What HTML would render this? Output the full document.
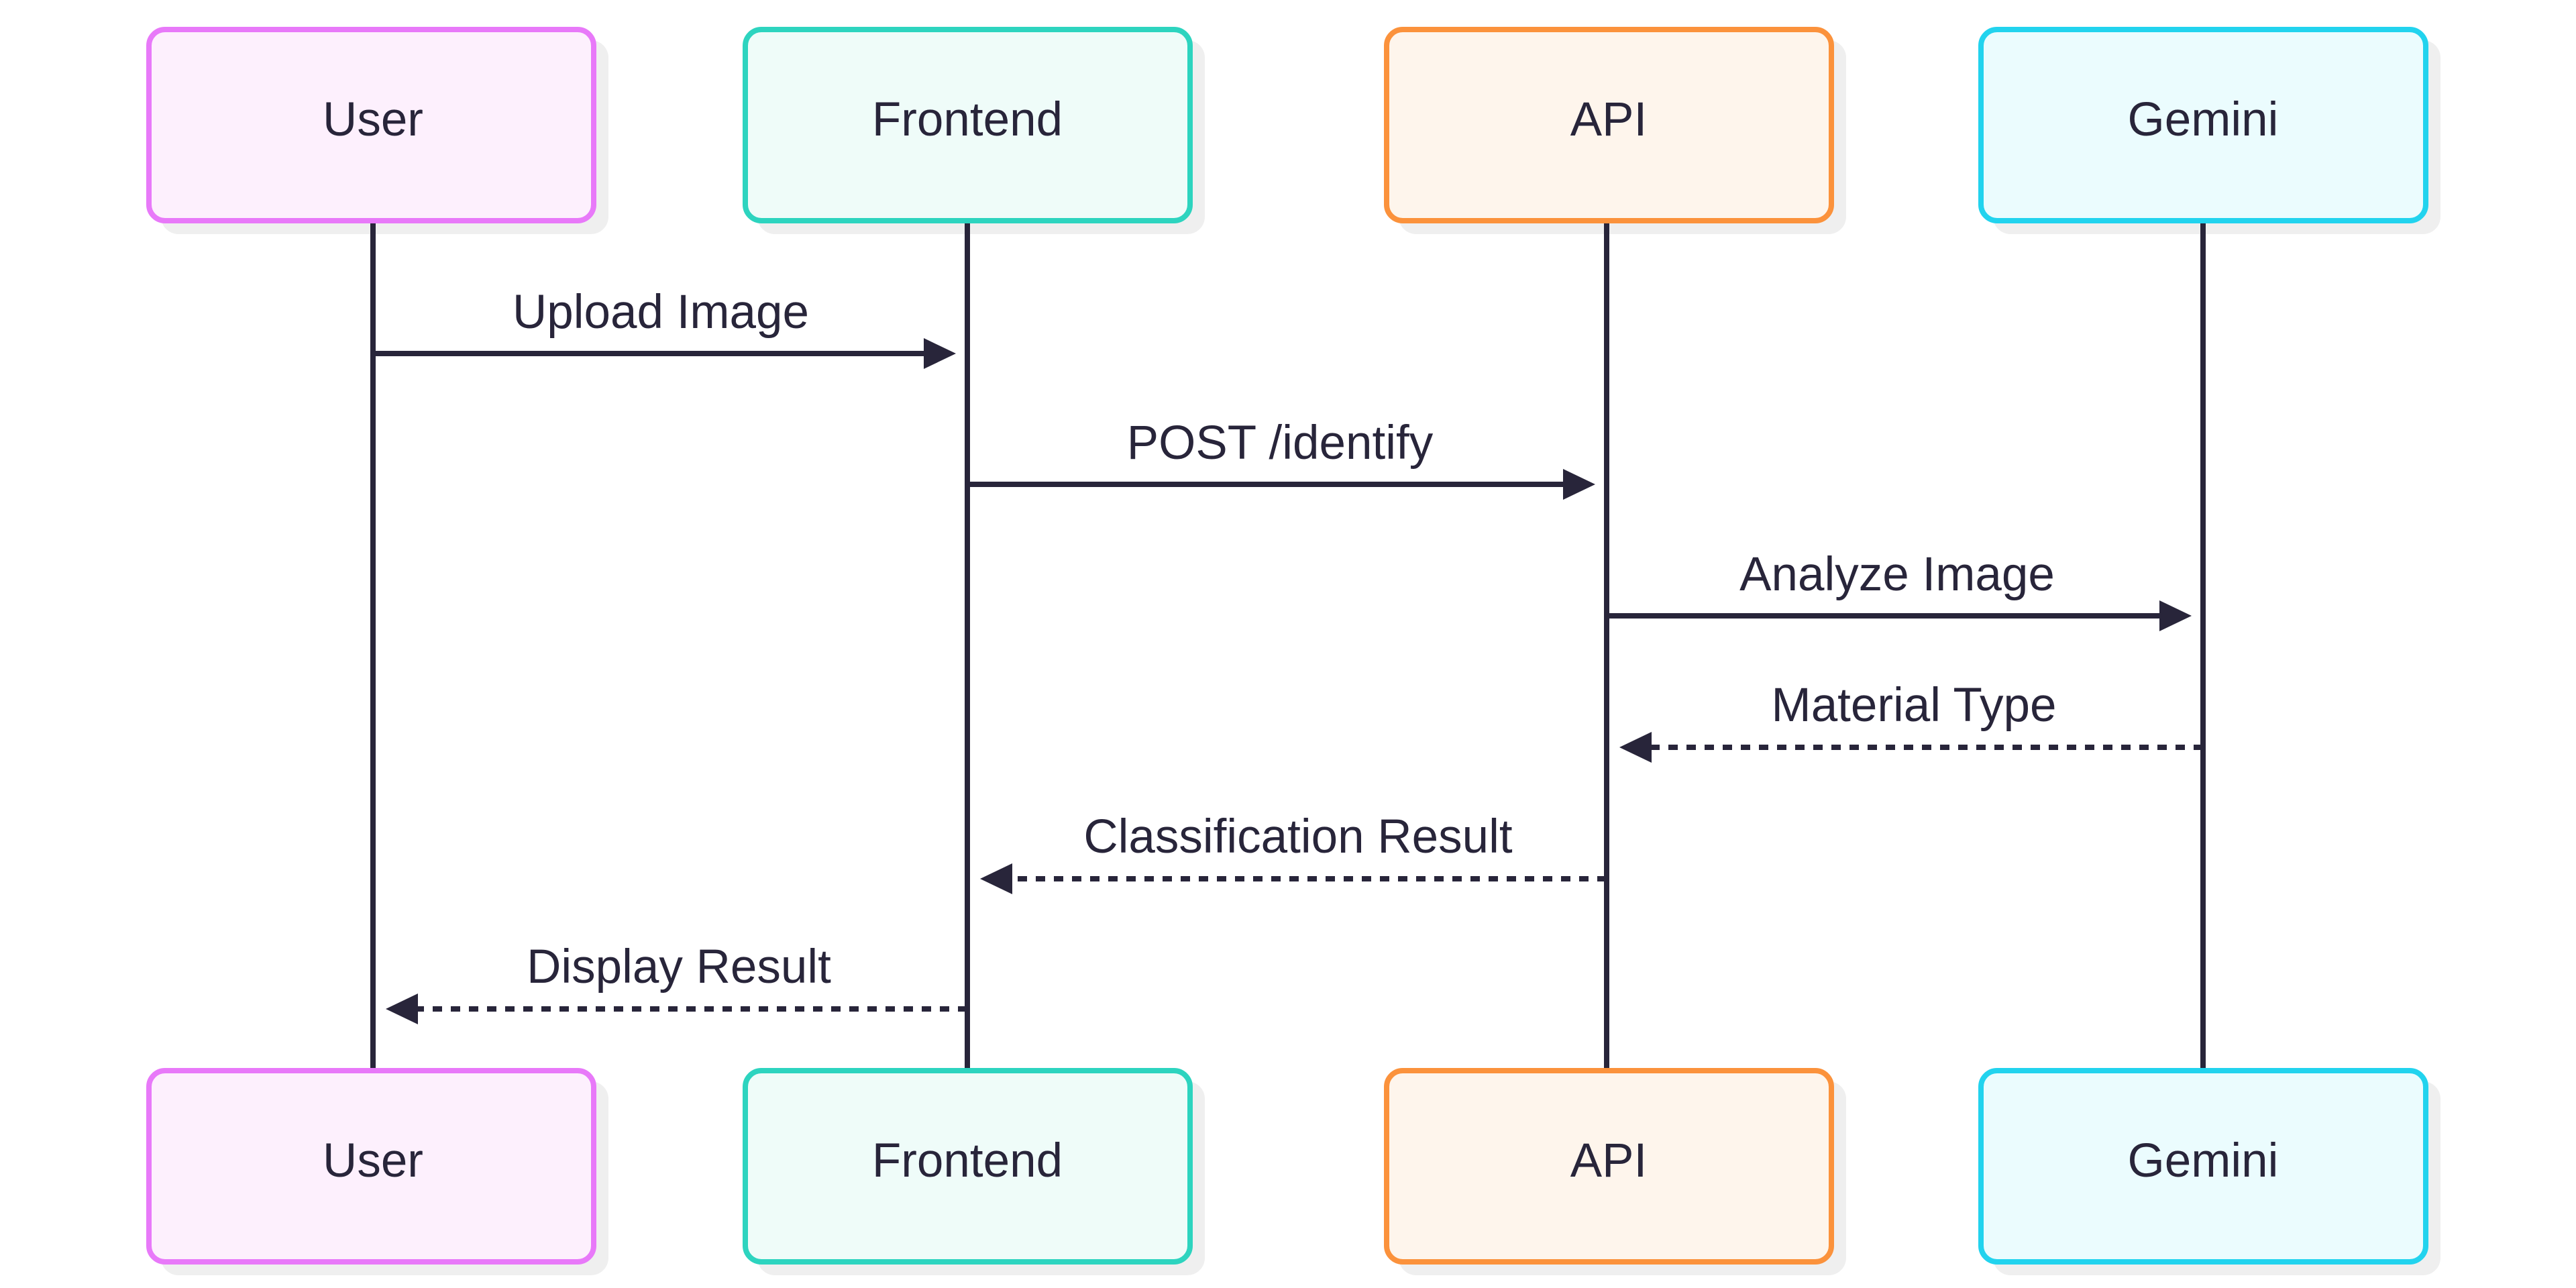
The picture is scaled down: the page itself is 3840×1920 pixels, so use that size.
<!DOCTYPE html>
<html><head><meta charset="utf-8"><style>html,body{margin:0;padding:0;background:#fff}svg{display:block}</style></head>
<body>
<svg width="3840" height="1920" viewBox="0 0 3840 1920" xmlns="http://www.w3.org/2000/svg" font-family="Liberation Sans, Arial, sans-serif">
<g fill="#efefef">
<rect x="240" y="60" width="667" height="289" rx="26"/>
<rect x="1129" y="60" width="667" height="289" rx="26"/>
<rect x="2085" y="60" width="667" height="289" rx="26"/>
<rect x="2971" y="60" width="667" height="289" rx="26"/>
<rect x="240" y="1612" width="667" height="289" rx="26"/>
<rect x="1129" y="1612" width="667" height="289" rx="26"/>
<rect x="2085" y="1612" width="667" height="289" rx="26"/>
<rect x="2971" y="1612" width="667" height="289" rx="26"/>
</g>
<g stroke="#28253a" stroke-width="8">
<line x1="556" y1="331" x2="556" y2="1594"/>
<line x1="1442" y1="331" x2="1442" y2="1594"/>
<line x1="2395" y1="331" x2="2395" y2="1594"/>
<line x1="3284" y1="331" x2="3284" y2="1594"/>
</g>
<g stroke-width="8">
<rect x="222" y="44" width="663" height="285" rx="24" fill="#fdf0fd" stroke="#e879f9"/>
<rect x="1111" y="44" width="663" height="285" rx="24" fill="#effcf9" stroke="#2dd4bf"/>
<rect x="2067" y="44" width="663" height="285" rx="24" fill="#fef5ec" stroke="#fb923c"/>
<rect x="2953" y="44" width="663" height="285" rx="24" fill="#ebfcfe" stroke="#22d3ee"/>
<rect x="222" y="1596" width="663" height="285" rx="24" fill="#fdf0fd" stroke="#e879f9"/>
<rect x="1111" y="1596" width="663" height="285" rx="24" fill="#effcf9" stroke="#2dd4bf"/>
<rect x="2067" y="1596" width="663" height="285" rx="24" fill="#fef5ec" stroke="#fb923c"/>
<rect x="2953" y="1596" width="663" height="285" rx="24" fill="#ebfcfe" stroke="#22d3ee"/>
</g>
<g fill="#28253a" font-size="71" text-anchor="middle">
<text x="556" y="202">User</text>
<text x="1442" y="202">Frontend</text>
<text x="2398" y="202">API</text>
<text x="3284" y="202">Gemini</text>
<text x="556" y="1754">User</text>
<text x="1442" y="1754">Frontend</text>
<text x="2398" y="1754">API</text>
<text x="3284" y="1754">Gemini</text>
<text x="985" y="489">Upload Image</text>
<text x="1908" y="684">POST /identify</text>
<text x="2828" y="880">Analyze Image</text>
<text x="2853" y="1075">Material Type</text>
<text x="1935" y="1271">Classification Result</text>
<text x="1012" y="1465">Display Result</text>
</g>
<g stroke="#28253a" stroke-width="8" fill="none">
<line x1="556" y1="527" x2="1380" y2="527"/>
<line x1="1442" y1="722" x2="2333" y2="722"/>
<line x1="2395" y1="918" x2="3222" y2="918"/>
<line x1="3284" y1="1114" x2="2459" y2="1114" stroke-dasharray="14 13"/>
<line x1="2395" y1="1310" x2="1506" y2="1310" stroke-dasharray="14 13"/>
<line x1="1442" y1="1504" x2="620" y2="1504" stroke-dasharray="14 13"/>
</g>
<g fill="#28253a">
<path d="M1377,504 L1425,527 L1377,550 Z"/>
<path d="M2330,699 L2378,722 L2330,745 Z"/>
<path d="M3219,895 L3267,918 L3219,941 Z"/>
<path d="M2462,1091 L2414,1114 L2462,1137 Z"/>
<path d="M1509,1287 L1461,1310 L1509,1333 Z"/>
<path d="M623,1481 L575,1504 L623,1527 Z"/>
</g>
</svg>
</body></html>
